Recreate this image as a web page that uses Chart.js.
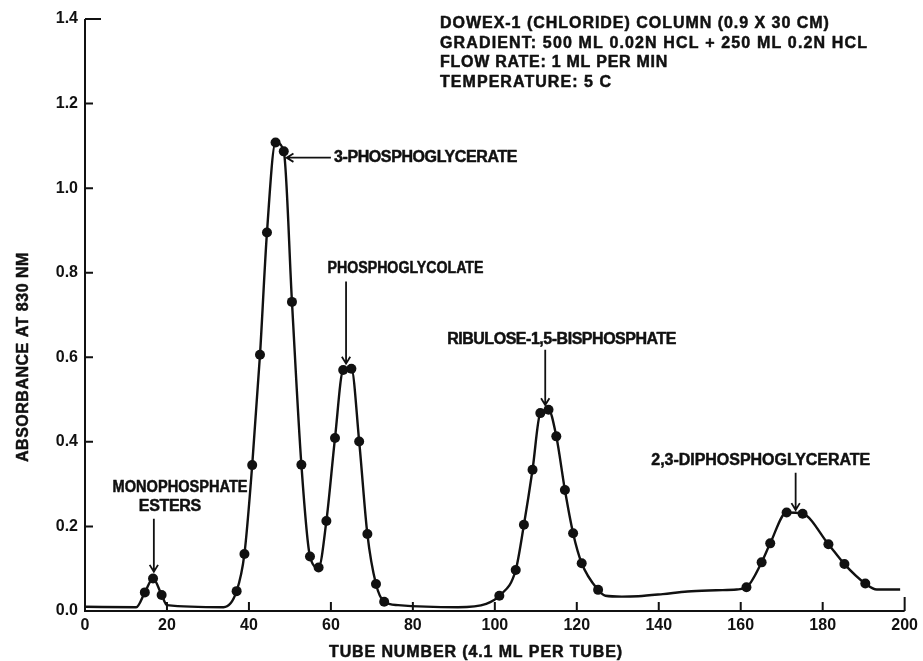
<!DOCTYPE html>
<html><head><meta charset="utf-8">
<script src="https://cdn.jsdelivr.net/npm/chart.js@4"></script>
<style>html,body{margin:0;padding:0;background:#fff}</style>
</head><body>
<canvas id="c" width="923" height="661"></canvas>
<script>
// ---- data ----
const tubeNumbers = [14.6,16.6,18.7,
  37.0,38.9,40.8,42.7,44.4,46.5,48.5,50.5,52.8,54.9,57.0,58.9,61.0,63.0,65.0,66.9,68.9,71.0,73.0,
  101.1,105.1,107.1,109.2,111.1,113.1,115.0,117.1,119.1,121.2,125.2,
  161.4,165.1,167.2,171.2,175.1,181.4,185.3,190.4];
const absorbance = [0.044,0.077,0.038,
  0.047,0.135,0.345,0.606,0.895,1.108,1.087,0.731,0.346,0.129,0.103,0.213,0.409,0.570,0.573,0.401,0.182,0.064,0.022,
  0.036,0.097,0.204,0.334,0.468,0.476,0.413,0.286,0.184,0.113,0.050,
  0.056,0.115,0.160,0.233,0.230,0.158,0.111,0.065];
// trace of the drawn curve between measured points (no markers)
const traceTubes = [0,12.5,20.0,33.8,76.4,91.0,97.9,127.0,131.0,135.0,141.0,147.0,154.0,159.0,193.2,198.9];
const traceAbs   = [0.010,0.009,0.014,0.009,0.014,0.009,0.017,0.036,0.034,0.035,0.040,0.046,0.049,0.051,0.051,0.051];
const xTickValues = [0,20,40,60,80,100,120,140,160,180,200];
const yTickValues = [0,0.2,0.4,0.6,0.8,1.0,1.2,1.4];
const xTitle = 'TUBE NUMBER (4.1 ML PER TUBE)';
const yTitle = 'ABSORBANCE AT 830 NM';
const noteLines = ['DOWEX-1 (CHLORIDE) COLUMN (0.9 X 30 CM)',
  'GRADIENT: 500 ML 0.02N HCL + 250 ML 0.2N HCL',
  'FLOW RATE: 1 ML PER MIN',
  'TEMPERATURE: 5 C'];
const peakNames = ['3-PHOSPHOGLYCERATE','PHOSPHOGLYCOLATE','RIBULOSE-1,5-BISPHOSPHATE','2,3-DIPHOSPHOGLYCERATE','MONOPHOSPHATE','ESTERS'];

// ---- build datasets ----
const markers = tubeNumbers.map((x,i)=>({x, y: absorbance[i]}));
const curve = markers.concat(traceTubes.map((x,i)=>({x, y: traceAbs[i]}))).sort((a,b)=>a.x-b.x);

const FONT = '"Liberation Sans", Arial, sans-serif';
const INK = '#111';

function fitText(ctx, text, x, y, width, align){
  ctx.save();
  const hasLS = 'letterSpacing' in ctx;
  if (hasLS) ctx.letterSpacing = '0px';
  const w = ctx.measureText(text).width;
  const sp = (width - w) / text.length;
  ctx.textAlign = 'left';
  ctx.textBaseline = 'middle';
  ctx.lineWidth = 0.5; ctx.strokeStyle = ctx.fillStyle; ctx.lineJoin = 'round';
  const left = align === 'center' ? x - width/2 : x;
  if (hasLS && sp > -0.6) {
    ctx.letterSpacing = sp.toFixed(2) + 'px';
    ctx.fillText(text, left, y); ctx.strokeText(text, left, y);
  } else {
    ctx.translate(left, y); ctx.scale(width / w, 1);
    ctx.fillText(text, 0, 0); ctx.strokeText(text, 0, 0);
  }
  ctx.restore();
}
function arrow(ctx, x1, y1, x2, y2){
  const a = Math.atan2(y2-y1, x2-x1), L = 8, s = 0.55;
  ctx.beginPath();
  ctx.moveTo(x1,y1); ctx.lineTo(x2,y2);
  ctx.moveTo(x2 - L*Math.cos(a-s), y2 - L*Math.sin(a-s));
  ctx.lineTo(x2, y2);
  ctx.lineTo(x2 - L*Math.cos(a+s), y2 - L*Math.sin(a+s));
  ctx.stroke();
}

// annotation layout (data coordinates)
const labelLayout = [
  {name:0, pos:[60.75,1.072], w:183, align:'left', size:16, arrow:[[60.0,1.072],[49.2,1.072]]},
  {name:1, pos:[78.2,0.809], w:156, align:'center', size:16, arrow:[[63.7,0.779],[63.7,0.585]]},
  {name:2, pos:[116.3,0.641], w:229, align:'center', size:16, arrow:[[112.3,0.618],[112.3,0.487]]},
  {name:3, pos:[164.9,0.355], w:219, align:'center', size:16, arrow:[[173.4,0.327],[173.4,0.239]]},
  {name:4, pos:[23.2,0.293], w:135, align:'center', size:16, arrow:[[16.8,0.218],[16.8,0.093]]},
  {name:5, pos:[20.7,0.246], w:62, align:'center', size:16}
];
const noteLayout = {x:440, y:[24,43.5,63,82.5], w:[390,428,228,172]};

const decor = {
  id:'decor',
  afterDraw(chart){
    const ctx = chart.ctx, xs = chart.scales.x, ys = chart.scales.y, ca = chart.chartArea;
    ctx.save();
    ctx.strokeStyle = INK; ctx.fillStyle = INK; ctx.lineWidth = 2; ctx.lineCap = 'butt';
    // axes
    ctx.beginPath();
    ctx.moveTo(ca.left, ys.getPixelForValue(1.4)); ctx.lineTo(ca.left, ca.bottom);
    ctx.lineTo(xs.getPixelForValue(200), ca.bottom);
    ctx.stroke();
    // inward ticks
    ctx.beginPath();
    yTickValues.forEach(v=>{
      if (v === 0) return;
      const py = ys.getPixelForValue(v), len = v >= 1.39 ? 16 : 8;
      ctx.moveTo(ca.left, py); ctx.lineTo(ca.left + len, py);
    });
    xTickValues.forEach(v=>{
      if (v === 0) return;
      const px = xs.getPixelForValue(v), len = v >= 200 ? 14 : 9;
      ctx.moveTo(px, ca.bottom); ctx.lineTo(px, ca.bottom - len);
    });
    ctx.stroke();
    // axis titles
    ctx.font = 'bold 16px ' + FONT;
    fitText(ctx, xTitle, 476, 653, 294, 'center');
    ctx.save();
    ctx.translate(24, 357); ctx.rotate(-Math.PI/2);
    fitText(ctx, yTitle, 0, 0, 210, 'center');
    ctx.restore();
    // notes
    noteLines.forEach((t,i)=> fitText(ctx, t, noteLayout.x, noteLayout.y[i], noteLayout.w[i], 'left'));
    // peak labels
    ctx.lineWidth = 1.8;
    labelLayout.forEach(l=>{
      ctx.font = 'bold ' + l.size + 'px ' + FONT;
      fitText(ctx, peakNames[l.name], xs.getPixelForValue(l.pos[0]), ys.getPixelForValue(l.pos[1]), l.w, l.align);
      ctx.lineWidth = 1.8;
      if (l.arrow) arrow(ctx, xs.getPixelForValue(l.arrow[0][0]), ys.getPixelForValue(l.arrow[0][1]),
                              xs.getPixelForValue(l.arrow[1][0]), ys.getPixelForValue(l.arrow[1][1]));
    });
    ctx.restore();
  }
};

new Chart(document.getElementById('c'), {
  type: 'scatter',
  data: { datasets: [
    { label:'curve', data: curve, showLine: true, borderColor: INK, borderWidth: 2.4,
      pointRadius: 0, cubicInterpolationMode: 'monotone', fill: false },
    { label:'measured', data: markers, showLine: false, pointRadius: 5,
      pointBackgroundColor: INK, pointBorderColor: INK, pointBorderWidth: 0 }
  ]},
  options: {
    responsive: false, animation: false, devicePixelRatio: 1,
    layout: { padding: { top: 19, right: 15, left: 0, bottom: 0 } },
    plugins: { legend: { display: false }, tooltip: { enabled: false } },
    scales: {
      x: { type:'linear', min: 0, max: 200,
        afterBuildTicks: s => { s.ticks = xTickValues.map(v=>({value:v})); },
        afterFit: s => { s.height = 50; },
        grid: { display: false, drawTicks: false }, border: { display: false },
        ticks: { color: INK, padding: 5, maxRotation: 0, font: { family: FONT, size: 16, weight: 'bold' },
          callback: v => String(v) } },
      y: { type:'linear', min: 0, max: 1.4,
        afterBuildTicks: s => { s.ticks = yTickValues.map(v=>({value:v})); },
        afterFit: s => { s.width = 85; },
        grid: { display: false, drawTicks: false }, border: { display: false },
        ticks: { color: INK, padding: 7, font: { family: FONT, size: 16, weight: 'bold' },
          callback: v => Number(v).toFixed(1) } }
    }
  },
  plugins: [decor]
});
</script>
</body></html>
